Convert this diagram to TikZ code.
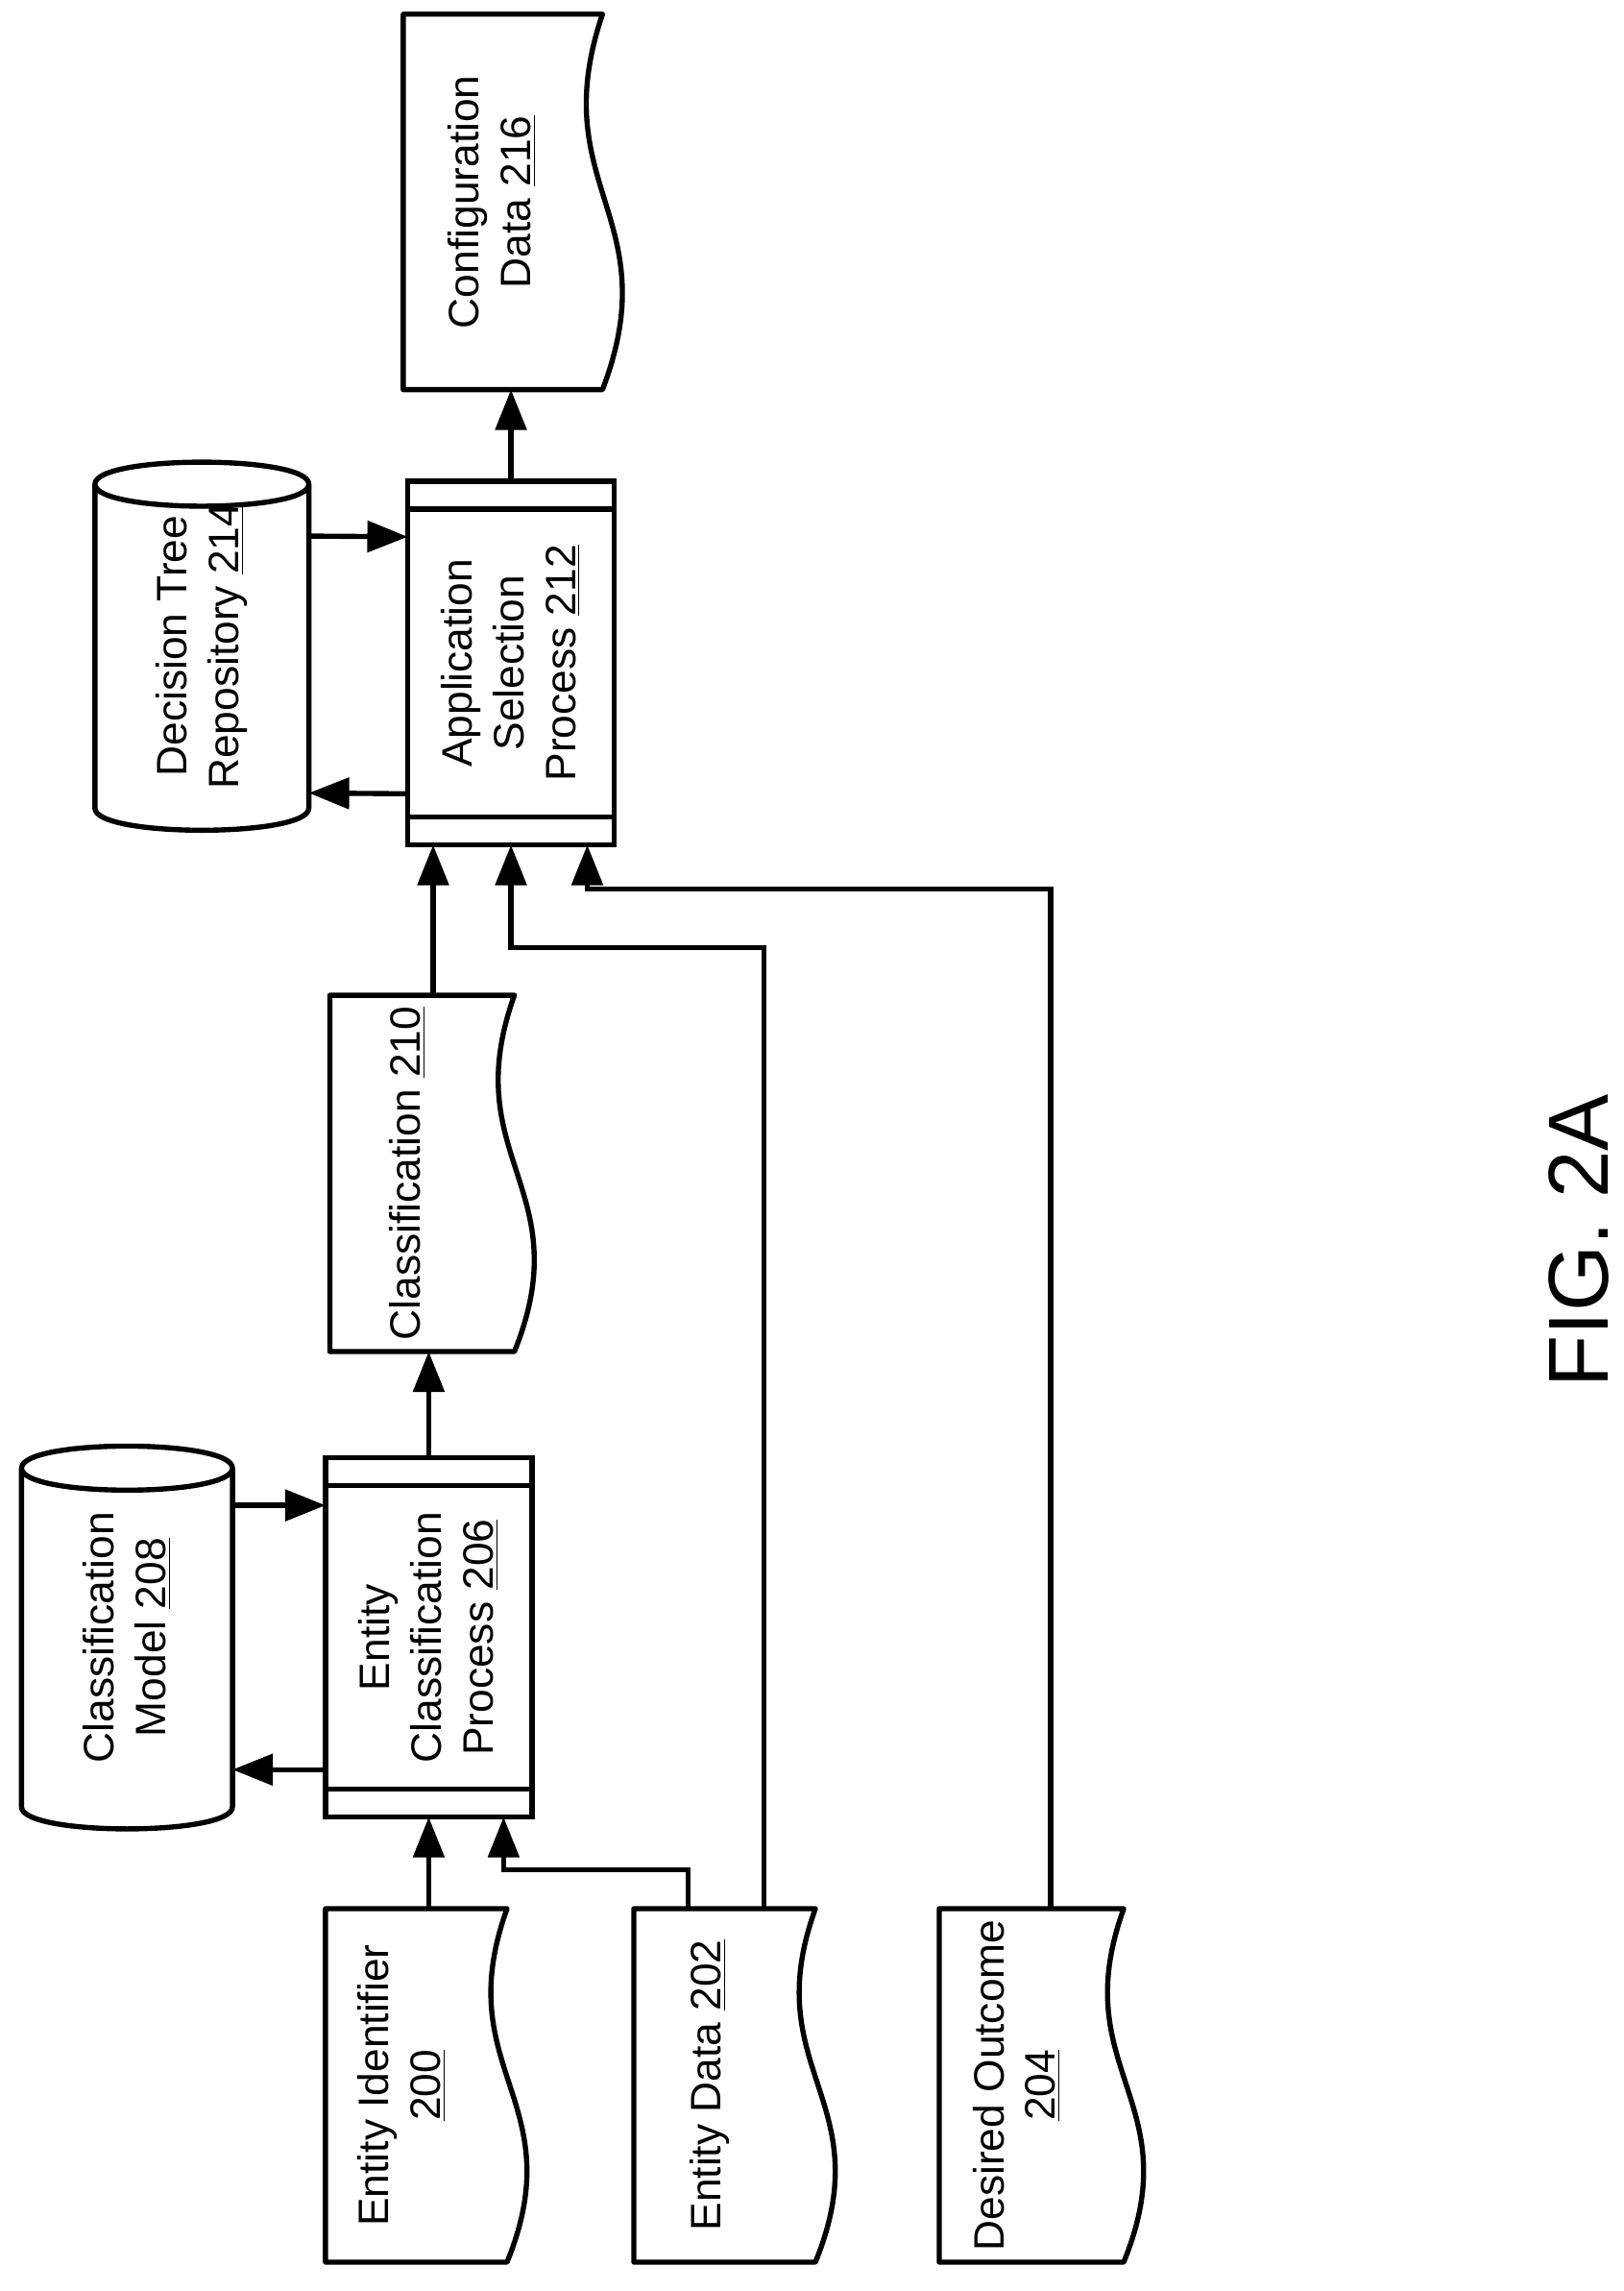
\documentclass[tikz,border=0pt]{standalone}
\usepackage{fontspec}
\setmainfont{Liberation Sans}
\usetikzlibrary{arrows.meta}

\tikzset{
  box/.style={draw=none, minimum width=#1, inner sep=0pt},
  lbl/.style={rotate=90, align=center, font=\fontsize{16.5}{20}\selectfont},
  flow/.style={-{Triangle[length=0.55cm,width=0.42cm]}, line width=2pt},
}
% wavy document outline around a named box
\newcommand\docpath[1]{%
  \draw[line width=2pt, line join=round] (#1.north west) -- (#1.north east)
    .. controls ([xshift=-0.8cm,yshift=0.2cm]#1.east) and ([xshift=0.9cm,yshift=-0.2cm]#1.east) ..
    (#1.south east) -- (#1.south west) -- cycle;}
% predefined process outline
\newcommand\procpath[1]{%
  \draw[line width=2pt] (#1.north west) rectangle (#1.south east);
  \draw[line width=2pt] ([yshift=-0.38cm]#1.north west) -- ([yshift=-0.38cm]#1.north east);
  \draw[line width=2pt] ([yshift=0.38cm]#1.south west) -- ([yshift=0.38cm]#1.south east);}
% database outline
\newcommand\dbpath[1]{%
  \draw[line width=2pt, line join=round] (#1.north west)
    .. controls ([yshift=0.4cm]#1.north west) and ([yshift=0.4cm]#1.north east) .. (#1.north east)
    .. controls ([yshift=-0.4cm]#1.north east) and ([yshift=-0.4cm]#1.north west) .. (#1.north west)
    -- (#1.south west)
    .. controls ([yshift=-0.4cm]#1.south west) and ([yshift=-0.4cm]#1.south east) .. (#1.south east)
    -- (#1.north east);}

\begin{document}
\begin{tikzpicture}[x=0.02cm, y=-0.02cm]
  \useasboundingbox (0,0) rectangle (1106,1560);

  % inputs
  \node[box=2.46cm, minimum height=4.8cm] (EnId) at (283.5,1420) {};
  \node[box=2.46cm, minimum height=4.8cm] (EnDa) at (493.5,1420) {};
  \node[box=2.5cm, minimum height=4.8cm] (DeOu) at (702.5,1420) {};
  \docpath{EnId} \docpath{EnDa} \docpath{DeOu}
  \node[lbl] (EnIdT) at ([xshift=-0.2cm]EnId.center) {Entity Identifier\\\underline{200}};
  \node[lbl] (EnDaT) at ([xshift=-0.2cm]EnDa.center) {Entity Data \underline{202}};
  \node[lbl] (DeOuT) at ([xshift=-0.2cm]DeOu.center) {Desired Outcome\\\underline{204}};

  % classification
  \node[box=2.8cm, minimum height=4.88cm] (EnClPr) at (292,1115) {};
  \procpath{EnClPr}
  \node[lbl] (EnClPrT) at (EnClPr) {Entity\\Classification\\Process \underline{206}};
  \node[box=2.86cm, minimum height=4.6cm] (ClMo) at (86.5,1115) {};
  \dbpath{ClMo}
  \node[lbl] (ClMoT) at (ClMo) {Classification\\Model \underline{208}};
  \node[box=2.5cm, minimum height=4.84cm] (Clas) at (287.5,799) {};
  \docpath{Clas}
  \node[lbl] (ClasT) at ([xshift=-0.2cm]Clas.center) {Classification \underline{210}};

  % selection
  \node[box=2.8cm, minimum height=4.94cm] (ApSePr) at (348,451.5) {};
  \procpath{ApSePr}
  \node[lbl] (ApSePrT) at (ApSePr) {Application\\Selection\\Process \underline{212}};
  \node[box=2.9cm, minimum height=4.4cm] (DeTr) at (137.5,440) {};
  \dbpath{DeTr}
  \node[lbl] (DeTrT) at (DeTr) {Decision Tree\\Repository \underline{214}};
  \node[box=2.7cm, minimum height=5.1cm] (CoDa) at (342.5,137.5) {};
  \docpath{CoDa}
  \node[lbl] (CoDaT) at ([xshift=-0.15cm]CoDa.center) {Configuration\\Data \underline{216}};

  \draw[flow] (EnId.north -| EnClPr.south) -- (EnClPr.south);
  \draw[flow] ([xshift=-0.5cm]EnDa.north) |- ([xshift=1.02cm,yshift=-0.72cm]EnClPr.south) -- ([xshift=1.02cm]EnClPr.south);
  \draw[flow] ([xshift=0.54cm]EnDa.north) |- ([yshift=-1.4cm]ApSePr.south) -- (ApSePr.south);
  \draw[flow] ([xshift=0.26cm]DeOu.north) |- ([xshift=1.04cm,yshift=-0.6cm]ApSePr.south) -- ([xshift=1.04cm]ApSePr.south);
  \draw[flow] ([yshift=1.8cm]ClMo.east) -- ([yshift=1.8cm]EnClPr.west);
  \draw[flow] ([yshift=-1.8cm]EnClPr.west) -- ([yshift=-1.8cm]ClMo.east);
  \draw[flow] (EnClPr.north) -- (EnClPr.north |- Clas.south);
  \draw[flow] ([xshift=-1.06cm]ApSePr.south |- Clas.north) -- ([xshift=-1.06cm]ApSePr.south);
  \draw[flow] ([yshift=1.5cm]DeTr.east) -- ([yshift=1.72cm]ApSePr.west);
  \draw[flow] ([yshift=-1.78cm]ApSePr.west) -- ([yshift=-2cm]DeTr.east);
  \draw[flow] (ApSePr.north) -- (ApSePr.north |- CoDa.south);

  \node[rotate=90, font=\fontsize{33}{36}\selectfont] (Fig) at (1075,845) {FIG. 2A};
\end{tikzpicture}
\end{document}
